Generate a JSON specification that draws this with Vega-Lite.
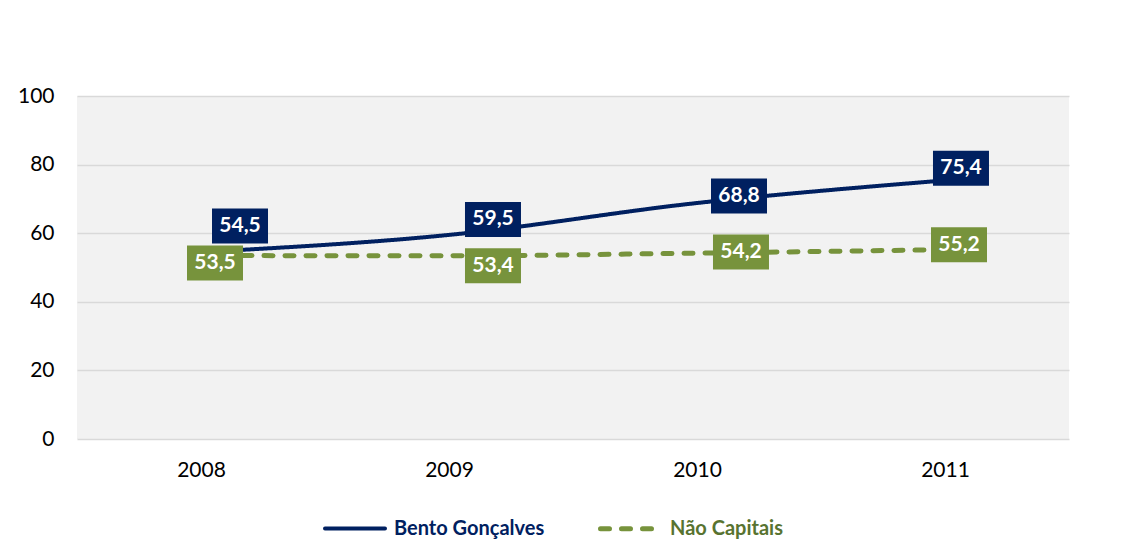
{
  "$schema": "https://vega.github.io/schema/vega-lite/v6.json",
  "autosize": {"type": "none"},
  "width": 992,
  "height": 343,
  "padding": {"left": 77, "top": 96, "right": 55, "bottom": 102},
  "background": "white",
  "data": {
    "values": [
      {"year": "2008", "series": "Bento Gonçalves", "value": 54.5},
      {"year": "2009", "series": "Bento Gonçalves", "value": 59.5},
      {"year": "2010", "series": "Bento Gonçalves", "value": 68.8},
      {"year": "2011", "series": "Bento Gonçalves", "value": 75.4},
      {"year": "2008", "series": "Não Capitais", "value": 53.5},
      {"year": "2009", "series": "Não Capitais", "value": 53.4},
      {"year": "2010", "series": "Não Capitais", "value": 54.2},
      {"year": "2011", "series": "Não Capitais", "value": 55.2}
    ]
  },
  "encoding": {
    "x": {
      "field": "year", "type": "ordinal",
      "scale": {"type": "point", "padding": 0.5},
      "axis": {"title": null, "labelAngle": 0, "domain": false, "ticks": false, "labelPadding": 20, "labelFontSize": 21, "labelColor": "#000000", "labelFont": "Lato"}
    },
    "y": {
      "field": "value", "type": "quantitative",
      "scale": {"domain": [0, 100], "nice": false, "zero": true},
      "axis": {"title": null, "values": [0, 20, 40, 60, 80, 100], "domain": false, "ticks": false, "labelPadding": 23, "labelFontSize": 21, "labelColor": "#000000", "labelFont": "Lato", "gridColor": "#d9d9d9", "gridWidth": 1.5}
    }
  },
  "layer": [
    {
      "mark": {"type": "line", "interpolate": "monotone", "strokeCap": "round"},
      "encoding": {
        "color": {
          "field": "series", "type": "nominal",
          "scale": {"domain": ["Bento Gonçalves", "Não Capitais"], "range": ["#002060", "#77933C"]},
          "legend": {
            "title": null, "orient": "none", "direction": "horizontal",
            "legendX": 246, "legendY": 400,
            "symbolType": "stroke", "symbolSize": 3600, "symbolStrokeWidth": 5,
            "labelFont": "Lato", "labelFontSize": 20, "labelFontWeight": "bold",
            "labelOffset": 7, "columnPadding": 45, "padding": 0,
            "encode": {
              "labels": {"update": {"fill": {"signal": "datum.value == 'Bento Gonçalves' ? '#002060' : '#587330'"}}},
              "symbols": {"update": {"strokeDash": {"signal": "datum.value == 'Não Capitais' ? [12, 9] : [1, 0]"}, "strokeCap": {"value": "round"}}}
            }
          }
        },
        "strokeDash": {
          "field": "series", "type": "nominal",
          "scale": {"domain": ["Bento Gonçalves", "Não Capitais"], "range": [[1, 0], [9, 12]]},
          "legend": null
        },
        "strokeWidth": {
          "field": "series", "type": "nominal",
          "scale": {"domain": ["Bento Gonçalves", "Não Capitais"], "range": [4, 5]},
          "legend": null
        }
      }
    },
    {
      "mark": {
        "type": "point", "filled": true, "opacity": 1, "size": 3136, "strokeWidth": 0,
        "shape": {"expr": "datum.series == 'Bento Gonçalves' ? (datum.year == '2008' ? 'M0.393,-1.554L2.393,-1.554L2.393,-0.304L0.393,-0.304Z' : datum.year == '2009' ? 'M0.571,-1.179L2.571,-1.179L2.571,0.071L0.571,0.071Z' : datum.year == '2010' ? 'M0.5,-0.875L2.5,-0.875L2.5,0.375L0.5,0.375Z' : 'M-0.429,-1.054L1.571,-1.054L1.571,0.196L-0.429,0.196Z') : (datum.year == '2008' ? 'M-0.5,-0.357L1.5,-0.357L1.5,0.893L-0.5,0.893Z' : datum.year == '2009' ? 'M0.571,-0.268L2.571,-0.268L2.571,0.982L0.571,0.982Z' : datum.year == '2010' ? 'M0.571,-0.661L2.571,-0.661L2.571,0.589L0.571,0.589Z' : 'M-0.5,-0.804L1.5,-0.804L1.5,0.446L-0.5,0.446Z')"}
      },
      "encoding": {
        "color": {"field": "series", "type": "nominal", "scale": {"domain": ["Bento Gonçalves", "Não Capitais"], "range": ["#002060", "#77933C"]}, "legend": null}
      }
    },
    {
      "mark": {
        "type": "text", "font": "Lato", "fontSize": 21, "fontWeight": "bold", "color": "white", "align": "center", "baseline": "middle",
        "dx": {"expr": "datum.series == 'Bento Gonçalves' ? (datum.year == '2008' ? 39 : datum.year == '2009' ? 44 : datum.year == '2010' ? 42 : 16) : (datum.year == '2008' ? 14 : datum.year == '2009' ? 44 : datum.year == '2010' ? 44 : 14)"},
        "dy": {"expr": "datum.series == 'Bento Gonçalves' ? (datum.year == '2008' ? -26 : datum.year == '2009' ? -15.5 : datum.year == '2010' ? -7 : -12) : (datum.year == '2008' ? 7.5 : datum.year == '2009' ? 10 : datum.year == '2010' ? -1 : -5)"}
      },
      "encoding": {
        "text": {"field": "value", "type": "quantitative", "format": ".1f"}
      }
    }
  ],
  "config": {
    "locale": {"number": {"decimal": ",", "thousands": ".", "grouping": [3], "currency": ["", ""]}},
    "view": {"fill": "#f2f2f2", "stroke": null},
    "font": "Lato"
  }
}
